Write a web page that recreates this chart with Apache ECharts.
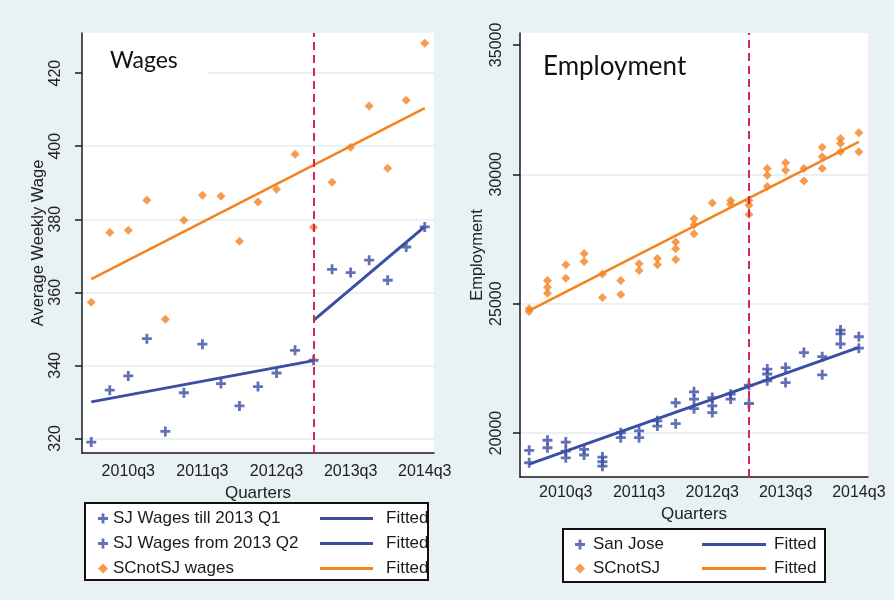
<!DOCTYPE html>
<html>
<head>
<meta charset="utf-8">
<title>Wages and Employment</title>
<script src="https://cdn.jsdelivr.net/npm/echarts@6/dist/echarts.min.js"></script>
<style>
  html, body { margin: 0; padding: 0; background: #e8f1f3; }
  #chart { width: 894px; height: 600px; }
</style>
</head>
<body>
<div id="chart"></div>
<script>
  // x axis: quarters 2010q1 .. 2014q3
  var quarters = ['2010q1', '2010q2', '2010q3', '2010q4', '2011q1', '2011q2', '2011q3', '2011q4',
    '2012q1', '2012q2', '2012q3', '2012q4', '2013q1', '2013q2', '2013q3', '2013q4',
    '2014q1', '2014q2', '2014q3'];
  var breakQuarter = '2013q1';

  // wages (left panel)
  var sjWagesTill = [319, 333.2, 337.1, 347.3, 321.9, 332.5, 345.8, 335, 328.9, 334.2, 337.9, 344.1, 341.4];
  var sjWagesFrom = [366.3, 365.4, 368.8, 363.3, 372.4, 377.9];  // 2013q2 .. 2014q3
  var scWages = [357.3, 376.4, 377, 385.2, 352.6, 379.7, 386.6, 386.3, 374, 384.7, 388.2, 397.8,
    377.8, 390.1, 399.7, 411, 394, 412.6, 428.2];
  // fitted lines: [start, end]
  var fitSjTill = [330, 341.3];     // 2010q1 -> 2013q1
  var fitSjFrom = [352.3, 378];     // 2013q1 -> 2014q3
  var fitScWages = [363.6, 410.4];  // 2010q1 -> 2014q3
  var wageTicks = [320, 340, 360, 380, 400, 420];

  // employment (right panel), several readings per quarter
  var sjEmp = [[19330, 18850], [19720, 19430], [19650, 19300, 19040], [19370, 19150],
    [19070, 18890, 18720], [20010, 19820], [20080, 19820], [20470, 20270], [21170, 20360],
    [21590, 21310, 20940], [21370, 21050, 20790], [21500, 21310], [21850, 21140],
    [22470, 22280, 22020], [22530, 21950], [23110], [22950, 22250], [23980, 23830, 23440],
    [23720, 23280]];
  var scEmp = [[24800, 24700], [25890, 25630, 25400], [26500, 25980], [26940, 26630],
    [26150, 25240], [25890, 25350], [26540, 26280], [26740, 26500], [27380, 27120, 26710],
    [28280, 28050, 27700], [28890], [28990, 28840], [28990, 28800, 28450],
    [30220, 29960, 29530], [30450, 30160], [30220, 29740], [31040, 30680, 30220],
    [31380, 31190, 30870], [31600, 30870]];
  var fitSjEmp = [18800, 23310];
  var fitScEmp = [24730, 31250];
  var empTicks = [20000, 25000, 30000, 35000];

  var BLUE = '#3b4ea3';
  var ORANGE = '#f58220';
  var FONT = "'Liberation Sans', Arial, sans-serif";
  var PLUS = 'path://M3.6,0H6.4V3.6H10V6.4H6.4V10H3.6V6.4H0V3.6H3.6Z';

  function pairs(values, offset) {
    return values.map(function (v, i) { return [quarters[i + offset], v]; });
  }
  function flatten(groups) {
    var out = [];
    groups.forEach(function (g, i) {
      g.forEach(function (v) { out.push([quarters[i], v]); });
    });
    return out;
  }
  function fitLine(fit, from, to) {
    return [[quarters[from], fit[0]], [quarters[to], fit[1]]];
  }

  var breakLine = {
    silent: true,
    symbol: 'none',
    label: {show: false},
    lineStyle: {color: '#d8235c', type: [8, 5], width: 2},
    data: [{xAxis: breakQuarter}]
  };

  function xAxisOf(gridIndex, margin, nameGap) {
    return {
      gridIndex: gridIndex,
      type: 'category',
      data: quarters,
      boundaryGap: true,
      name: 'Quarters',
      nameLocation: 'middle',
      nameGap: nameGap,
      nameTextStyle: {fontFamily: FONT, fontSize: 17, color: '#222'},
      axisLine: {lineStyle: {color: '#1a1a1a', width: 1.5}},
      axisTick: {alignWithLabel: true, length: 6, lineStyle: {color: '#1a1a1a', width: 1.5}},
      axisLabel: {
        interval: function (i) { return i % 4 === 2; },
        margin: margin,
        fontFamily: FONT, fontSize: 16, color: '#222'
      },
      splitLine: {show: false}
    };
  }

  function yAxisOf(gridIndex, min, max, ticks, name, nameGap, margin) {
    return {
      gridIndex: gridIndex,
      type: 'value',
      min: min,
      max: max,
      name: name,
      nameLocation: 'middle',
      nameGap: nameGap,
      nameTextStyle: {fontFamily: FONT, fontSize: 16.5, color: '#222'},
      axisLine: {show: true, lineStyle: {color: '#1a1a1a', width: 1.5}},
      axisTick: {show: true, length: 7, customValues: ticks, lineStyle: {color: '#1a1a1a', width: 1.5}},
      axisLabel: {
        customValues: ticks, rotate: 90, margin: margin,
        formatter: function (v) { return String(v); },
        fontFamily: FONT, fontSize: 16, color: '#222'
      },
      splitLine: {show: true, lineStyle: {color: '#e2edf0', width: 1.5}}
    };
  }

  var legendText = {fontFamily: FONT, fontSize: 17, color: '#1b1b1b', lineHeight: 17};

  var chart = echarts.init(document.getElementById('chart'));
  chart.setOption({
    backgroundColor: '#e8f1f3',
    animation: false,
    grid: [
      {left: 82, top: 33, width: 352, height: 420, show: true, backgroundColor: '#fff', borderWidth: 0},
      {left: 520, top: 33, width: 348, height: 444, show: true, backgroundColor: '#fff', borderWidth: 0}
    ],
    xAxis: [xAxisOf(0, 11, 23), xAxisOf(1, 8, 22)],
    yAxis: [
      yAxisOf(0, 316, 431, wageTicks, 'Average Weekly Wage', 27, 18),
      yAxisOf(1, 18300, 35460, empTicks, 'Employment', 34, 15)
    ],
    legend: [
      {
        left: 93, top: 505, orient: 'vertical', itemGap: 8, itemWidth: 10, itemHeight: 10,
        selectedMode: false, textStyle: legendText,
        data: ['SJ Wages till 2013 Q1', 'SJ Wages from 2013 Q2', 'SCnotSJ wages']
      },
      {
        left: 315, top: 505, orient: 'vertical', itemGap: 8, itemWidth: 53, itemHeight: 3,
        selectedMode: false, icon: 'rect',
        formatter: function () { return '{p|Fitted}'; },
        textStyle: Object.assign({rich: {p: Object.assign({padding: [0, 0, 0, 8]}, legendText)}}, legendText),
        data: ['Fitted SJ till', 'Fitted SJ from', 'Fitted SC wages']
      },
      {
        left: 570, top: 531, orient: 'vertical', itemGap: 7, itemWidth: 10, itemHeight: 10,
        selectedMode: false,
        formatter: function (name) { return '{p|' + name + '}'; },
        textStyle: Object.assign({rich: {p: Object.assign({padding: [0, 0, 0, 3]}, legendText)}}, legendText),
        data: ['San Jose', 'SCnotSJ']
      },
      {
        left: 697, top: 531, orient: 'vertical', itemGap: 7, itemWidth: 64, itemHeight: 3,
        selectedMode: false, icon: 'rect',
        formatter: function () { return '{p|Fitted}'; },
        textStyle: Object.assign({rich: {p: Object.assign({padding: [0, 0, 0, 3]}, legendText)}}, legendText),
        data: ['Fitted SJ emp', 'Fitted SC emp']
      }
    ],
    graphic: [
      // legend frames
      {type: 'rect', z: 0, shape: {x: 85, y: 503, width: 343, height: 77},
        style: {fill: '#fff', stroke: '#111', lineWidth: 2}},
      {type: 'rect', z: 0, shape: {x: 563, y: 529, width: 262, height: 53},
        style: {fill: '#fff', stroke: '#111', lineWidth: 2}},
      // panel labels
      {type: 'rect', z: 1, shape: {x: 83, y: 34, width: 125, height: 42}, style: {fill: '#fff'}},
      {type: 'rect', z: 1, shape: {x: 521, y: 34, width: 346, height: 14}, style: {fill: '#fff'}},
      {type: 'text', z: 3, x: 110, y: 61,
        style: {text: 'Wages', font: '23px Lato, sans-serif', fill: '#111', verticalAlign: 'middle'}},
      {type: 'text', z: 3, x: 543, y: 67,
        style: {text: 'Employment', font: '26px Lato, sans-serif', fill: '#111', verticalAlign: 'middle'}}
    ],
    series: [
      {
        name: 'SJ Wages till 2013 Q1', type: 'scatter', xAxisIndex: 0, yAxisIndex: 0,
        symbol: PLUS, symbolSize: 10, itemStyle: {color: BLUE},
        data: pairs(sjWagesTill, 0),
        markLine: breakLine
      },
      {
        name: 'SJ Wages from 2013 Q2', type: 'scatter', xAxisIndex: 0, yAxisIndex: 0,
        symbol: PLUS, symbolSize: 10, itemStyle: {color: BLUE},
        data: pairs(sjWagesFrom, 13)
      },
      {
        name: 'SCnotSJ wages', type: 'scatter', xAxisIndex: 0, yAxisIndex: 0,
        symbol: 'diamond', symbolSize: 9, itemStyle: {color: ORANGE},
        data: pairs(scWages, 0)
      },
      {
        name: 'Fitted SJ till', type: 'line', xAxisIndex: 0, yAxisIndex: 0, symbol: 'none',
        itemStyle: {color: BLUE}, lineStyle: {color: BLUE, width: 3},
        data: fitLine(fitSjTill, 0, 12)
      },
      {
        name: 'Fitted SJ from', type: 'line', xAxisIndex: 0, yAxisIndex: 0, symbol: 'none',
        itemStyle: {color: BLUE}, lineStyle: {color: BLUE, width: 3},
        data: fitLine(fitSjFrom, 12, 18)
      },
      {
        name: 'Fitted SC wages', type: 'line', xAxisIndex: 0, yAxisIndex: 0, symbol: 'none',
        itemStyle: {color: ORANGE}, lineStyle: {color: ORANGE, width: 2.5},
        data: fitLine(fitScWages, 0, 18)
      },
      {
        name: 'San Jose', type: 'scatter', xAxisIndex: 1, yAxisIndex: 1,
        symbol: PLUS, symbolSize: 10, itemStyle: {color: BLUE},
        data: flatten(sjEmp),
        markLine: breakLine
      },
      {
        name: 'SCnotSJ', type: 'scatter', xAxisIndex: 1, yAxisIndex: 1,
        symbol: 'diamond', symbolSize: 9, itemStyle: {color: ORANGE},
        data: flatten(scEmp)
      },
      {
        name: 'Fitted SJ emp', type: 'line', xAxisIndex: 1, yAxisIndex: 1, symbol: 'none',
        itemStyle: {color: BLUE}, lineStyle: {color: BLUE, width: 3},
        data: fitLine(fitSjEmp, 0, 18)
      },
      {
        name: 'Fitted SC emp', type: 'line', xAxisIndex: 1, yAxisIndex: 1, symbol: 'none',
        itemStyle: {color: ORANGE}, lineStyle: {color: ORANGE, width: 2.5},
        data: fitLine(fitScEmp, 0, 18)
      }
    ]
  });
</script>
</body>
</html>
